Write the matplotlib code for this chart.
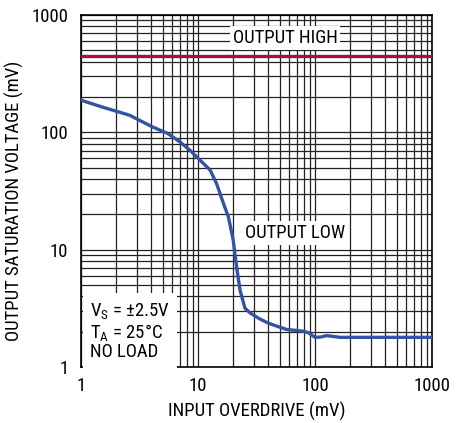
import matplotlib
matplotlib.use("Agg")
import matplotlib.pyplot as plt

plt.rcParams.update({
    "font.family": ["Roboto Condensed", "DejaVu Sans"],
    "font.size": 13.5,
    "mathtext.fontset": "custom",
    "mathtext.rm": "Roboto Condensed",
    "mathtext.it": "Roboto Condensed",
})

# Output high: flat line
high_x = [1, 1000]
high_y = [450, 450]

# Output low curve
low_x = [1, 1.5, 2.6, 4.1, 5.5, 7.0, 8.5, 10.4, 12.7, 14.4, 16.5, 18.2, 20.0, 21.4, 22.9,
         25.2, 27.8, 33, 40, 57, 79, 88, 100, 112, 126, 164, 300, 1000]
low_y = [188, 165, 140, 111, 98, 83, 70.6, 58, 47.7, 36.7, 24.8, 19, 12.1, 7.1, 4.5,
         3.17, 2.9, 2.6, 2.36, 2.09, 2.02, 1.96, 1.79, 1.80, 1.85, 1.79, 1.79, 1.79]

RED = "#a3103a"
BLUE = "#3553a4"

fig = plt.figure(figsize=(4.67, 4.23), dpi=100)
ax = fig.add_axes([0.1734, 0.1324, 0.7516, 0.8321])

ax.set_xscale("log")
ax.set_yscale("log")
ax.set_xlim(1, 1000)
ax.set_ylim(1, 1000)

ax.grid(True, which="both", color="#222222", lw=0.9)
ax.set_axisbelow(True)
for s in ax.spines.values():
    s.set_color("black")
    s.set_linewidth(1.2)
ax.tick_params(which="both", length=0)
ax.tick_params(axis="y", pad=9)
ax.tick_params(axis="x", pad=7)
ax.set_xticks([1, 10, 100, 1000])
ax.set_xticklabels(["1", "10", "100", "1000"])
ax.set_yticks([1, 10, 100, 1000])
ax.set_yticklabels(["1", "10", "100", "1000"])

ax.plot(high_x, high_y, color=RED, lw=2.4, zorder=3)
ax.plot(low_x, low_y, color=BLUE, lw=2.4, zorder=3)

ax.set_xlabel("INPUT OVERDRIVE (mV)", labelpad=5)
ax.set_ylabel("OUTPUT SATURATION VOLTAGE (mV)")
ax.yaxis.set_label_coords(-0.162, 0.472)

box = dict(facecolor="white", edgecolor="none", pad=2)
ax.text(55.4, 637, "OUTPUT HIGH", ha="center", va="center", bbox=box, zorder=4)
ax.text(67.5, 13.9, "OUTPUT LOW", ha="center", va="center", bbox=box, zorder=4)
ax.text(1.2, 2.02, "V$_\\mathregular{S}$ = ±2.5V\nT$_\\mathregular{A}$ = 25°C\nNO LOAD",
        ha="left", va="center", linespacing=1.05,
        bbox=dict(facecolor="white", edgecolor="none", pad=5), zorder=4)

fig.savefig("out.png", dpi=100)
